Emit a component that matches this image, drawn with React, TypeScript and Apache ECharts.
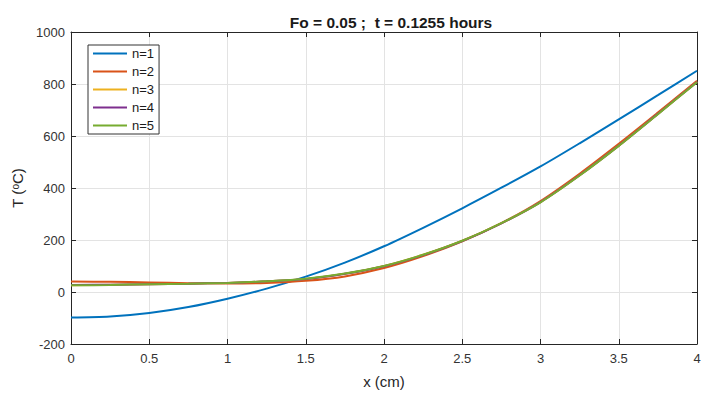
import React, { useEffect, useRef } from "react";
import * as echarts from "echarts";

const xs = [0, 0.25, 0.5, 0.75, 1, 1.25, 1.5, 1.75, 2, 2.25, 2.5, 2.75, 3, 3.25, 3.5, 3.75, 4];
const n1 = [-98, -94, -81, -58, -26, 13, 59, 113, 176, 247, 322, 401, 483, 572, 664, 757, 851];
const n2 = [40, 39, 37, 34, 33, 35, 43, 60, 92, 138, 195, 265, 350, 455, 570, 690, 812];
const n3 = [26, 28, 30, 32, 35, 41, 50, 70, 100, 143, 197, 265, 346, 449, 563, 685, 808];
const n4 = [27, 28, 30, 32, 35, 41, 50, 70, 99, 142, 196, 264, 346, 449, 563, 685, 808];
const n5 = [26, 27, 30, 32, 35, 41, 51, 71, 100, 143, 197, 265, 345, 448, 562, 684, 807];

const seriesNames = ["n=1", "n=2", "n=3", "n=4", "n=5"];
const seriesValues = [n1, n2, n3, n4, n5];
const colors = ["#0072BD", "#D95319", "#EDB120", "#7E2F8E", "#77AC30"];

const title = "Fo = 0.05 ;  t = 0.1255 hours";
const FONT = "Liberation Sans, Arial, Helvetica, sans-serif";

export default function App() {
  const ref = useRef<HTMLDivElement>(null);
  useEffect(() => {
    const chart = echarts.init(ref.current!, null, { renderer: "svg" });
    const tickStyle = { show: true, inside: true, length: 5, lineStyle: { color: "#262626", width: 1 } };
    const axisLine = { show: true, onZero: false, lineStyle: { color: "#262626", width: 1 } };
    const splitLine = { show: true, lineStyle: { color: "#e3e3e3", width: 1 } };
    chart.setOption({
      animation: false,
      backgroundColor: "#ffffff",
      color: colors,
      textStyle: { fontFamily: FONT },
      title: {
        text: title,
        left: 386,
        textAlign: "center",
        top: 9,
        textStyle: { fontSize: 15.5, fontWeight: "bold", color: "#1a1a1a", fontFamily: FONT },
      },
      grid: { left: 71, right: 7, top: 32, bottom: 56, containLabel: false },
      legend: {
        orient: "vertical",
        left: 88,
        top: 45,
        backgroundColor: "#ffffff",
        borderColor: "#333333",
        borderWidth: 1,
        borderRadius: 0,
        padding: [2, 5, 2, 5],
        itemGap: 5,
        itemWidth: 34,
        itemHeight: 2,
        icon: "rect",
        textStyle: { fontSize: 13, color: "#1a1a1a", fontFamily: FONT },
        data: seriesNames,
      },
      xAxis: [
        {
          type: "value",
          min: 0,
          max: 4,
          interval: 0.5,
          name: "x (cm)",
          nameLocation: "middle",
          nameGap: 30,
          nameTextStyle: { fontSize: 15, color: "#262626", fontFamily: FONT },
          axisLine,
          axisTick: tickStyle,
          axisLabel: { fontSize: 13, color: "#333333", margin: 8, fontFamily: FONT, formatter: (v: number) => String(v) },
          splitLine,
        },
        {
          type: "value",
          position: "top",
          min: 0,
          max: 4,
          interval: 0.5,
          axisLine,
          axisTick: tickStyle,
          axisLabel: { show: false },
          splitLine: { show: false },
        },
      ],
      yAxis: [
        {
          type: "value",
          min: -200,
          max: 1000,
          interval: 200,
          name: "T ({sup|o}C)",
          nameLocation: "middle",
          nameGap: 45,
          nameTextStyle: {
            fontSize: 15,
            color: "#262626",
            fontFamily: FONT,
            rich: {
              sup: { fontSize: 10, verticalAlign: "top", color: "#262626", fontFamily: FONT },
            },
          },
          axisLine,
          axisTick: tickStyle,
          axisLabel: { fontSize: 13, color: "#333333", margin: 6, fontFamily: FONT, formatter: (v: number) => String(v) },
          splitLine,
        },
        {
          type: "value",
          position: "right",
          min: -200,
          max: 1000,
          interval: 200,
          axisLine,
          axisTick: tickStyle,
          axisLabel: { show: false },
          splitLine: { show: false },
        },
      ],
      series: seriesNames.map((name, i) => ({
        name,
        type: "line",
        xAxisIndex: 0,
        yAxisIndex: 0,
        smooth: 0.3,
        symbol: "none",
        lineStyle: { width: 2, color: colors[i] },
        itemStyle: { color: colors[i] },
        data: xs.map((x, j) => [x, seriesValues[i][j]]),
      })),
    });
    return () => chart.dispose();
  }, []);
  return (
    <div
      ref={ref}
      style={{ position: "fixed", left: 0, top: 0, width: 704, height: 400, background: "#fff" }}
    />
  );
}
